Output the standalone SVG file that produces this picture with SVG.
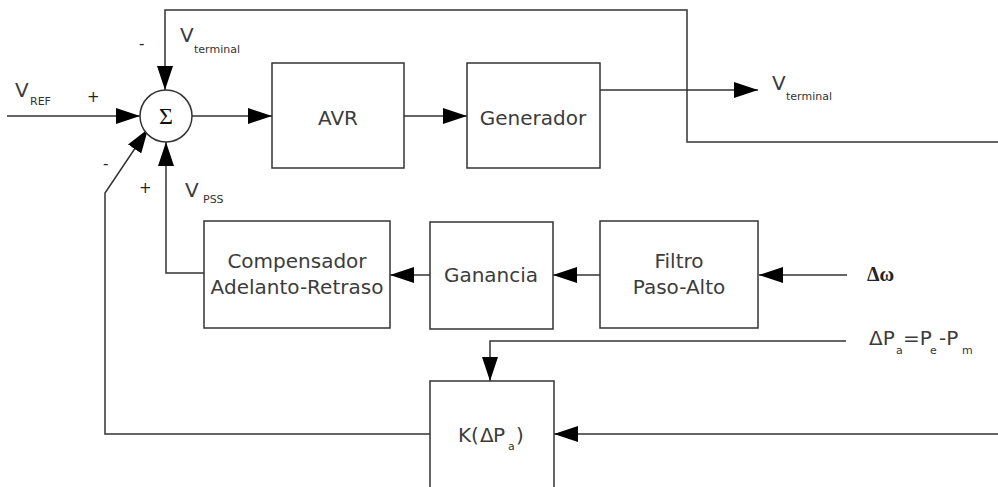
<svg xmlns="http://www.w3.org/2000/svg" width="998" height="487" viewBox="0 0 998 487">
  <defs>
    <marker id="arrow" markerUnits="userSpaceOnUse" markerWidth="24" markerHeight="16" refX="24" refY="8" orient="auto">
      <path d="M0,0 L24,8 L0,16 z" fill="#000"/>
    </marker>
    <style>
      .blk { fill: #fff; stroke: #333; stroke-width: 1.5; }
      .wire { fill: none; stroke: #333; stroke-width: 1.5; }
      .arr { marker-end: url(#arrow); }
      .lbl { font-family: "DejaVu Sans", "Liberation Sans", sans-serif; font-size: 20px; fill: #3c3c3c; }
      .sub { font-family: "DejaVu Sans", "Liberation Sans", sans-serif; font-size: 11px; fill: #333; }
      .sign { font-family: "DejaVu Sans", "Liberation Sans", sans-serif; font-size: 15px; fill: #222; }
      .mid { text-anchor: middle; }
    </style>
  </defs>

  <rect width="998" height="487" fill="#fff"/>

  <!-- connectors -->
  <g id="connectors">
    <path class="wire arr" d="M7,116 L140,116"/>
    <path class="wire arr" d="M998,142 L687,142 L687,10 L165,10 L165,90"/>
    <path class="wire arr" d="M192,116 L272,116"/>
    <path class="wire arr" d="M404,116 L467,116"/>
    <path class="wire arr" d="M600,90 L758,90"/>
    <path class="wire arr" d="M847,275 L759,275"/>
    <path class="wire arr" d="M600,275 L553,275"/>
    <path class="wire arr" d="M430,275 L390,275"/>
    <path class="wire arr" d="M204,273 L166,273 L166,142"/>
    <path class="wire arr" d="M430,434 L105,434 L105,193 L148,129"/>
    <path class="wire arr" d="M998,434 L554,434"/>
    <path class="wire arr" d="M846,341 L490,341 L490,381"/>
  </g>

  <!-- summing junction -->
  <g id="sum">
    <circle cx="166" cy="116" r="26" fill="#fff" stroke="#333" stroke-width="1.5"/>
    <text x="166" y="124" class="mid" font-family="Liberation Serif, serif" font-size="24" fill="#111">Σ</text>
  </g>

  <g id="avr">
    <rect class="blk" x="272" y="63" width="132" height="105"/>
    <text class="lbl mid" x="338" y="125">AVR</text>
  </g>

  <g id="generador">
    <rect class="blk" x="467" y="63" width="133" height="105"/>
    <text class="lbl mid" x="533" y="125">Generador</text>
  </g>

  <g id="compensador">
    <rect class="blk" x="204" y="221" width="186" height="107"/>
    <text class="lbl mid" x="297" y="268">Compensador</text>
    <text class="lbl mid" x="297" y="294">Adelanto-Retraso</text>
  </g>

  <g id="ganancia">
    <rect class="blk" x="430" y="222" width="123" height="107"/>
    <text class="lbl mid" x="491" y="282">Ganancia</text>
  </g>

  <g id="filtro">
    <rect class="blk" x="600" y="221" width="158" height="107"/>
    <text class="lbl mid" x="679" y="268">Filtro</text>
    <text class="lbl mid" x="679" y="294">Paso-Alto</text>
  </g>

  <g id="k-block">
    <rect class="blk" x="430" y="381" width="124" height="112"/>
    <text class="lbl" x="458" y="442">K(</text>
    <text class="lbl" x="480" y="442" font-size="15">Δ</text>
    <text class="lbl" x="493" y="442">P</text>
    <text class="sub" x="508" y="450">a</text>
    <text class="lbl" x="516" y="442">)</text>
  </g>

  <!-- signal labels -->
  <g id="labels">
    <text class="lbl" x="15" y="97">V</text>
    <text class="sub" x="30" y="105">REF</text>
    <text class="sign" x="87" y="102">+</text>

    <text class="lbl" x="180" y="42">V</text>
    <text class="sub" x="194" y="53">terminal</text>
    <text class="sign" x="139" y="49">-</text>

    <text class="lbl" x="772" y="90">V</text>
    <text class="sub" x="786" y="100">terminal</text>

    <text class="sign" x="103" y="169">-</text>
    <text class="sign" x="139" y="193">+</text>
    <text class="lbl" x="185" y="197">V</text>
    <text class="sub" x="203" y="203">PSS</text>

    <text x="867" y="281" font-family="Liberation Serif, serif" font-weight="bold" font-size="20" fill="#222">Δω</text>

    <text class="lbl" x="869" y="345">ΔP</text>
    <text class="sub" x="896" y="354">a</text>
    <text class="lbl" x="903" y="345">=P</text>
    <text class="sub" x="930" y="354">e</text>
    <text class="lbl" x="939" y="345">-P</text>
    <text class="sub" x="962" y="354">m</text>
  </g>
</svg>
